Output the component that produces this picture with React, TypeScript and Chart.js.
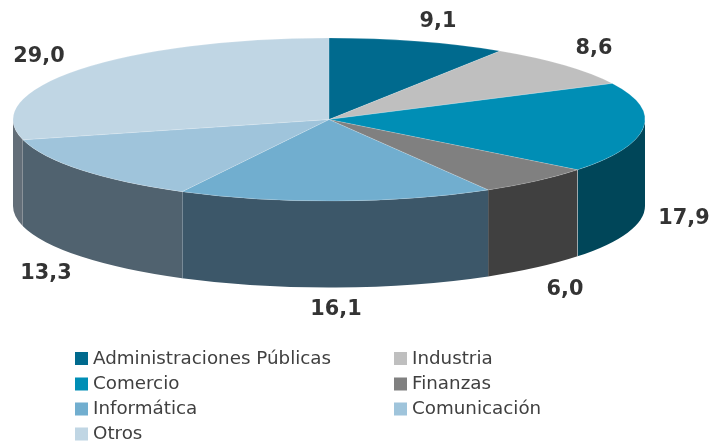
import React, { useEffect, useRef } from "react";
import { Chart, registerables } from "chart.js";

Chart.register(...registerables);

const categories = [
  "Administraciones Públicas",
  "Industria",
  "Comercio",
  "Finanzas",
  "Informática",
  "Comunicación",
  "Otros",
];
const values = [9.1, 8.6, 17.9, 6.0, 16.1, 13.3, 29.0];
const topColors = ["#006A8E", "#BFBFBF", "#008EB5", "#808080", "#71AECF", "#9FC4DB", "#C0D6E4"];
const wallColors = ["#004659", "#7F7F7F", "#004659", "#404040", "#3C5769", "#50626F", "#636E78"];
const wallSeamAlpha = [0, 0, 0.4, 0, 0.3, 0.2, 0];

const PIE = { cx: 329, cy: 119.5, rx: 316, ry: 81.5, depth: 86.5 };
const VALUE_LABEL_CENTERS = [
  [438, 22], [594, 48.5], [684, 219], [565, 289.5], [336, 309.5], [46, 274], [39, 56.5],
];
const LEGEND = { columns: [75, 394], rows: [358.5, 384, 409, 434], swatch: 13, gap: 5 };

const fmt = (v: number) => v.toFixed(1).replace(".", ",");

const pie3d = {
  id: "pie3d",
  beforeDatasetsDraw(chart: any) {
    const ctx = chart.ctx;
    const arcs = chart.getDatasetMeta(0).data;
    const { cx, cy, rx, ry, depth } = PIE;
    ctx.save();
    arcs.forEach((arc: any, i: number) => {
      const a = Math.max(arc.startAngle, 0);
      const b = Math.min(arc.endAngle, Math.PI);
      if (b <= a) return;
      ctx.beginPath();
      ctx.ellipse(cx, cy, rx, ry, 0, a, b);
      ctx.ellipse(cx, cy + depth, rx, ry, 0, b, a, true);
      ctx.closePath();
      ctx.fillStyle = wallColors[i];
      ctx.fill();
    });
    ctx.lineWidth = 1;
    arcs.forEach((arc: any, i: number) => {
      const t = arc.endAngle;
      if (t <= 0 || t >= Math.PI || !wallSeamAlpha[i]) return;
      const x = Math.floor(cx + rx * Math.cos(t)) + 0.5;
      const y = cy + ry * Math.sin(t);
      ctx.strokeStyle = `rgba(255,255,255,${wallSeamAlpha[i]})`;
      ctx.beginPath();
      ctx.moveTo(x, y);
      ctx.lineTo(x, y + depth);
      ctx.stroke();
    });
    ctx.restore();
    const first = arcs[0];
    const R = first.outerRadius;
    ctx.save();
    ctx.translate(cx, cy);
    ctx.scale(rx / R, ry / R);
    ctx.translate(-first.x, -first.y);
  },
  afterDatasetsDraw(chart: any) {
    const ctx = chart.ctx;
    ctx.restore();
    ctx.save();
    ctx.fillStyle = "#333333";
    ctx.textAlign = "center";
    ctx.textBaseline = "middle";
    ctx.font = 'bold 20.8px "DejaVu Sans"';
    values.forEach((v, i) => {
      const [x, y] = VALUE_LABEL_CENTERS[i];
      ctx.fillText(fmt(v), x, y);
    });
    ctx.textAlign = "left";
    ctx.font = '18.3px "DejaVu Sans"';
    categories.forEach((name, i) => {
      const x = LEGEND.columns[i % 2];
      const y = LEGEND.rows[Math.floor(i / 2)];
      ctx.fillStyle = topColors[i];
      ctx.fillRect(x, y - LEGEND.swatch / 2, LEGEND.swatch, LEGEND.swatch);
      ctx.fillStyle = "#404040";
      ctx.fillText(name, x + LEGEND.swatch + LEGEND.gap, y + 0.5);
    });
    ctx.restore();
  },
};

export default function App() {
  const ref = useRef<HTMLCanvasElement>(null);
  useEffect(() => {
    document.body.style.margin = "0";
    document.body.style.background = "#ffffff";
    const chart = new Chart(ref.current!, {
      type: "pie",
      data: {
        labels: categories,
        datasets: [
          {
            data: values,
            backgroundColor: topColors,
            borderColor: "rgba(255,255,255,0.3)",
            borderWidth: 0.6,
          },
        ],
      },
      options: {
        responsive: false,
        animation: false,
        events: [],
        plugins: { legend: { display: false }, tooltip: { enabled: false }, title: { display: false } },
      },
      plugins: [pie3d],
    });
    return () => chart.destroy();
  }, []);
  return <canvas ref={ref} width={711} height={441} style={{ display: "block" }} />;
}
